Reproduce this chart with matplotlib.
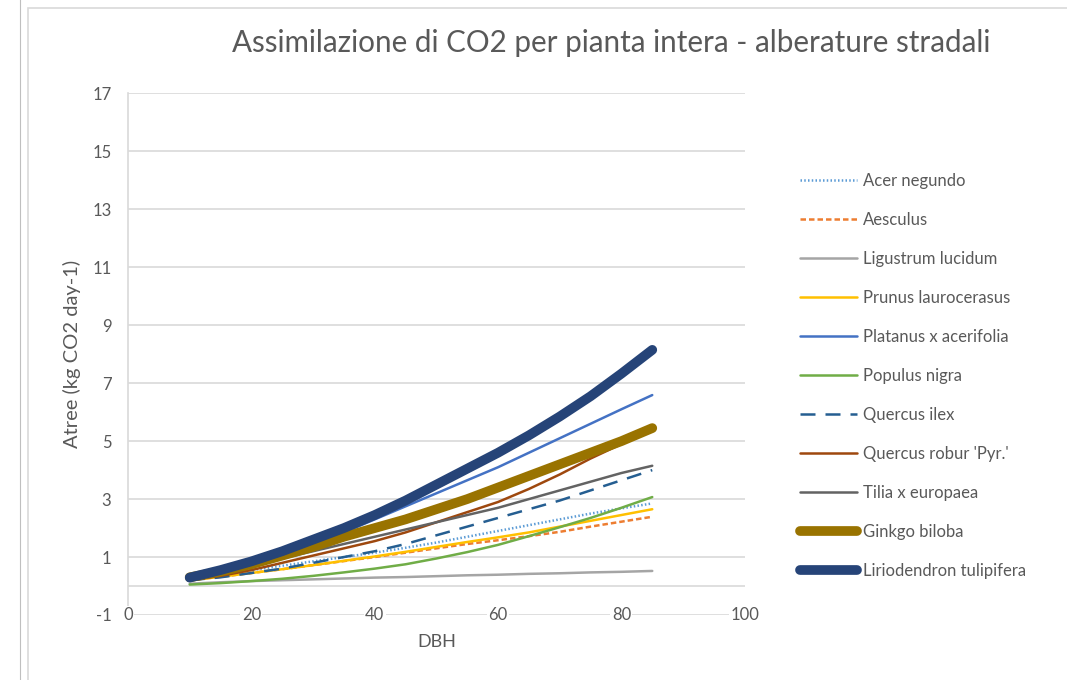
import matplotlib.pyplot as plt
from matplotlib.patches import Rectangle
from matplotlib.lines import Line2D

plt.rcParams['font.family'] = ['Lato', 'DejaVu Sans']
plt.rcParams['axes.unicode_minus'] = False

dbh = [10, 15, 20, 25, 30, 35, 40, 45, 50, 55, 60, 65, 70, 75, 80, 85]

species = ['Acer negundo', 'Aesculus', 'Ligustrum lucidum', 'Prunus laurocerasus',
           'Platanus x acerifolia', 'Populus nigra', 'Quercus ilex',
           "Quercus robur 'Pyr.'", 'Tilia x europaea', 'Ginkgo biloba',
           'Liriodendron tulipifera']

acer = [0.25, 0.4, 0.55, 0.7, 0.85, 1.0, 1.15, 1.32, 1.5, 1.7, 1.9, 2.1, 2.3, 2.5, 2.68, 2.85]
aesculus = [0.2, 0.32, 0.45, 0.58, 0.72, 0.86, 1.0, 1.15, 1.3, 1.45, 1.58, 1.72, 1.87, 2.05, 2.22, 2.39]
ligustrum = [0.08, 0.13, 0.17, 0.2, 0.23, 0.26, 0.29, 0.31, 0.34, 0.37, 0.39, 0.42, 0.44, 0.47, 0.49, 0.52]
prunus = [0.2, 0.32, 0.45, 0.58, 0.72, 0.87, 1.02, 1.18, 1.35, 1.52, 1.68, 1.85, 2.05, 2.25, 2.45, 2.65]
platanus = [0.25, 0.48, 0.75, 1.08, 1.45, 1.85, 2.3, 2.75, 3.2, 3.65, 4.1, 4.6, 5.1, 5.6, 6.1, 6.59]
populus = [0.05, 0.1, 0.17, 0.25, 0.35, 0.47, 0.6, 0.75, 0.95, 1.17, 1.42, 1.72, 2.03, 2.35, 2.7, 3.07]
q_ilex = [0.2, 0.3, 0.45, 0.6, 0.8, 1.0, 1.2, 1.45, 1.75, 2.05, 2.35, 2.65, 2.95, 3.3, 3.65, 4.0]
q_robur = [0.2, 0.35, 0.55, 0.8, 1.05, 1.3, 1.55, 1.85, 2.2, 2.55, 2.9, 3.35, 3.85, 4.4, 4.9, 5.35]
tilia = [0.25, 0.45, 0.7, 0.95, 1.2, 1.45, 1.7, 1.95, 2.2, 2.45, 2.7, 3.0, 3.3, 3.6, 3.9, 4.15]
ginkgo = [0.3, 0.5, 0.75, 1.05, 1.35, 1.7, 2.0, 2.3, 2.65, 3.0, 3.4, 3.8, 4.2, 4.6, 5.0, 5.45]
liriodendron = [0.29, 0.55, 0.85, 1.2, 1.6, 2.0, 2.45, 2.95, 3.5, 4.05, 4.6, 5.2, 5.85, 6.55, 7.33, 8.15]

series = [acer, aesculus, ligustrum, prunus, platanus, populus, q_ilex,
          q_robur, tilia, ginkgo, liriodendron]

colors = ['#5B9BD5', '#ED7D31', '#A5A5A5', '#FFC000', '#4472C4', '#70AD47',
          '#255E91', '#9E480E', '#636363', '#997300', '#264478']
styles = [(0, (0.6, 0.9)), (0, (2.2, 1.2)), '-', '-', '-', '-', (0, (6, 4)),
          '-', '-', '-', '-']
widths = [1.8, 1.8, 1.8, 1.8, 1.8, 1.8, 1.8, 1.8, 1.8, 7, 7]

txt = '#595959'
grid = '#D9D9D9'

fig = plt.figure(figsize=(10.67, 6.8), dpi=100)
ax = fig.add_axes([0.12, 0.0956, 0.578, 0.767])

# chart frame
fig.add_artist(Rectangle((28 / 1067, -0.1), 1.2, 1 - 8 / 680 + 0.1,
                         transform=fig.transFigure, fill=False,
                         edgecolor='#D9D9D9', lw=1.2))
fig.add_artist(Line2D([20 / 1067, 20 / 1067], [0, 1], transform=fig.transFigure,
                      color='#BFBFBF', lw=0.8))

for y, c, ls, lw, name in zip(series, colors, styles, widths, species):
    ax.plot(dbh, y, color=c, ls=ls, lw=lw, label=name,
            solid_capstyle='round', solid_joinstyle='round', dash_capstyle='butt')

ax.set_xlim(0, 100)
ax.set_ylim(-1, 17)
yticks = list(range(-1, 18, 2))
xticks = list(range(0, 101, 20))
ax.set_yticks(yticks)
ax.set_xticks(xticks)
ax.set_xticklabels([])
ax.tick_params(length=0, labelsize=12, labelcolor=txt, pad=12)
ax.grid(axis='y', color=grid, lw=1.2)
ax.set_axisbelow(True)
ax.axhline(0, color=grid, lw=1.2, zorder=0.5)
for s in ['top', 'right', 'bottom']:
    ax.spines[s].set_visible(False)
ax.spines['left'].set_color(grid)
ax.spines['left'].set_linewidth(1.2)

for v in xticks:
    ax.text(v, -1, str(v), ha='center', va='center', fontsize=12, color=txt,
            bbox=dict(facecolor='white', edgecolor='none', pad=1))

ax.set_xlabel('DBH', fontsize=13, color=txt, labelpad=2)
ax.set_ylabel('Atree (kg CO2 day-1)', fontsize=14.5, color=txt, labelpad=8)

fig.text(0.573, 0.937, 'Assimilazione di CO2 per pianta intera - alberature stradali',
         ha='center', va='center', fontsize=21.3, color=txt)

ax.legend(loc='center left', bbox_to_anchor=(800 / 1067, 1 - 376 / 680),
          bbox_transform=fig.transFigure, frameon=False, borderpad=0,
          borderaxespad=0, fontsize=12, labelcolor=txt, handlelength=3.4,
          handletextpad=0.4, labelspacing=1.38)

fig.savefig('out.png', dpi=100)
